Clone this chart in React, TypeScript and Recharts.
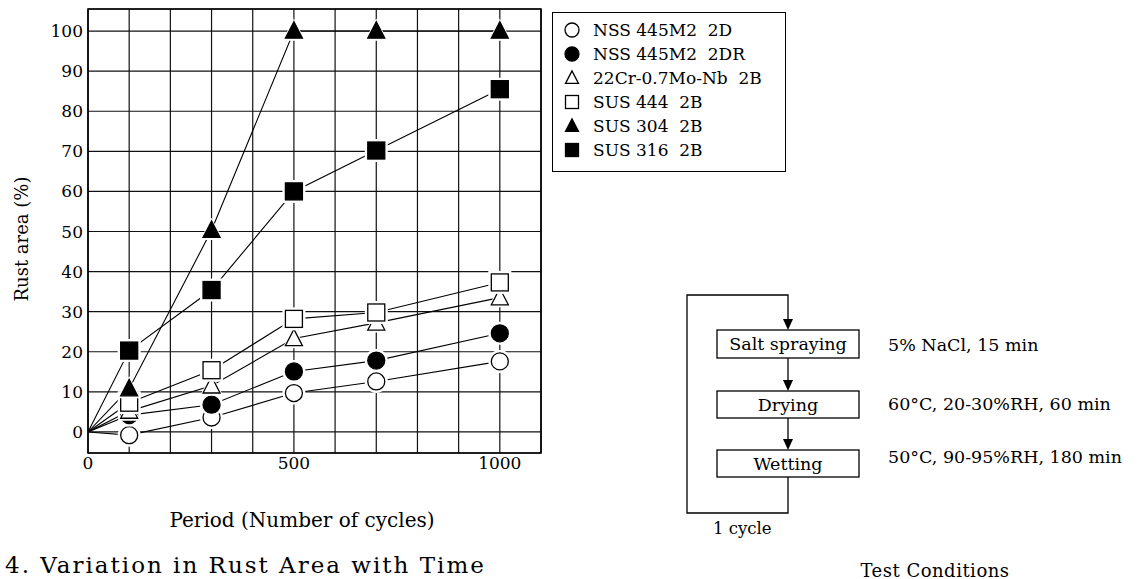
import React from 'react';
import { LineChart, Line, XAxis, YAxis, CartesianGrid, ReferenceArea } from 'recharts';

// cycles at which the specimens were inspected
const cycles = [0, 100, 300, 500, 700, 1000];

// rust area (%) per steel grade
const nss2d = [0, -0.8, 3.6, 9.7, 12.6, 17.6];
const nss2dr = [0, 4.2, 6.8, 15.1, 17.8, 24.6];
const cr22 = [0, 5.2, 11.5, 23.3, 27.2, 33.5];
const sus444 = [0, 7.3, 15.4, 28.2, 29.8, 37.3];
const sus304 = [0, 10.8, 50.3, 100, 100, 100];
const sus316 = [0, 20.3, 35.4, 60, 70.2, 85.5];

const xTicks = [0, 100, 200, 300, 400, 500, 600, 700, 800, 900, 1000, 1100];
const xLabels = [0, 500, 1000];
const yTicks = [0, 10, 20, 30, 40, 50, 60, 70, 80, 90, 100];

const steps = ['Salt spraying', 'Drying', 'Wetting'];
const conditions = ['5% NaCl, 15 min', '60°C, 20-30%RH, 60 min', '50°C, 90-95%RH, 180 min'];

const FONT = "'DejaVu Serif', 'Liberation Serif', serif";

type Shape = 'circle' | 'square' | 'triangle';

const series: { key: string; name: string; values: number[]; shape: Shape; filled: boolean }[] = [
    { key: 'nss2d', name: 'NSS 445M2  2D', values: nss2d, shape: 'circle', filled: false },
    { key: 'nss2dr', name: 'NSS 445M2  2DR', values: nss2dr, shape: 'circle', filled: true },
    { key: 'cr22', name: '22Cr-0.7Mo-Nb  2B', values: cr22, shape: 'triangle', filled: false },
    { key: 'sus444', name: 'SUS 444  2B', values: sus444, shape: 'square', filled: false },
    { key: 'sus304', name: 'SUS 304  2B', values: sus304, shape: 'triangle', filled: true },
    { key: 'sus316', name: 'SUS 316  2B', values: sus316, shape: 'square', filled: true },
];

const data = cycles.map((x, i) => {
    const row: Record<string, number> = { x };
    series.forEach((s) => (row[s.key] = s.values[i]));
    return row;
});

function drawShape(shape: Shape, cx: number, cy: number, s: number, fill: string, stroke: string, sw: number) {
    if (shape === 'circle') {
        return <circle cx={cx} cy={cy} r={s / 2} fill={fill} stroke={stroke} strokeWidth={sw} />;
    }
    if (shape === 'square') {
        return <rect x={cx - s / 2} y={cy - s / 2} width={s} height={s} fill={fill} stroke={stroke} strokeWidth={sw} />;
    }
    const pts = `${cx},${cy - s * 0.55} ${cx - s / 2},${cy + s * 0.42} ${cx + s / 2},${cy + s * 0.42}`;
    return <polygon points={pts} fill={fill} stroke={stroke} strokeWidth={sw} strokeLinejoin="miter" />;
}

function Marker({ cx, cy, shape, filled, size, halo }: { cx: number; cy: number; shape: Shape; filled: boolean; size: number; halo?: boolean }) {
    return (
        <g>
            {halo && drawShape(shape, cx, cy, size + 6, '#fff', 'none', 0)}
            {drawShape(shape, cx, cy, size, filled ? '#000' : '#fff', '#000', 1.3)}
        </g>
    );
}

const makeDot = (shape: Shape, filled: boolean) => (props: any) => {
    const { cx, cy, index } = props;
    if (index === 0 || cx == null || cy == null) return <g key={`d-${index}`} />;
    return (
        <g key={`d-${index}`}>
            <Marker cx={cx} cy={cy} shape={shape} filled={filled} size={17} halo />
        </g>
    );
};

const legendSize: Record<string, number> = { circle: 14, square: 13, triangle: 13 };

export default function App() {
    return (
        <div style={{ position: 'absolute', left: 0, top: 0, width: 1138, height: 579, background: '#fff', fontFamily: FONT }}>
            <div style={{ position: 'absolute', left: 0, top: 0 }}>
                <LineChart width={800} height={579} data={data} margin={{ top: 9, right: 259, bottom: 0, left: 10 }}>
                    <CartesianGrid stroke="#111" strokeWidth={1.2} />
                    <XAxis
                        dataKey="x"
                        type="number"
                        domain={[0, 1100]}
                        ticks={xTicks}
                        interval={0}
                        allowDataOverflow
                        height={126}
                        axisLine={false}
                        tickLine={false}
                        tickSize={0}
                        tickMargin={4}
                        tickFormatter={(v: number) => (xLabels.includes(v) ? String(v) : '')}
                        tick={{ fontSize: 17, fill: '#000', fontFamily: FONT }}
                    />
                    <YAxis
                        type="number"
                        domain={[-5.25, 105.5]}
                        ticks={yTicks}
                        interval={0}
                        allowDataOverflow
                        width={78}
                        axisLine={false}
                        tickLine={false}
                        tickSize={0}
                        tickMargin={5}
                        tick={{ fontSize: 17, fill: '#000', fontFamily: FONT }}
                    />
                    <ReferenceArea x1={0} x2={1100} y1={-5.25} y2={105.5} fill="#fff" fillOpacity={0} stroke="#000" strokeWidth={1.6} />
                    {series.map((s) => (
                        <Line
                            key={s.key}
                            dataKey={s.key}
                            name={s.name}
                            type="linear"
                            stroke="#000"
                            strokeWidth={1.1}
                            dot={makeDot(s.shape, s.filled)}
                            activeDot={false}
                            isAnimationActive={false}
                        />
                    ))}
                </LineChart>
            </div>

            {/* legend */}
            <div
                style={{
                    position: 'absolute',
                    left: 552,
                    top: 12,
                    width: 234,
                    height: 160,
                    border: '1.3px solid #000',
                    boxSizing: 'border-box',
                    paddingTop: 5,
                }}
            >
                {series.map((s) => (
                    <div key={s.key} style={{ display: 'flex', alignItems: 'center', height: 24, paddingLeft: 9 }}>
                        <svg width={20} height={20} style={{ flex: 'none' }}>
                            <Marker cx={10} cy={10} shape={s.shape} filled={s.filled} size={legendSize[s.shape]} />
                        </svg>
                        <span style={{ marginLeft: 11, fontSize: 17, whiteSpace: 'pre', color: '#000' }}>{s.name}</span>
                    </div>
                ))}
            </div>

            {/* labels and test-condition diagram */}
            <svg width={1138} height={579} style={{ position: 'absolute', left: 0, top: 0, pointerEvents: 'none' }} fontFamily={FONT}>
                <text x={21} y={239} transform="rotate(-90 21 239)" textAnchor="middle" dominantBaseline="central" fontSize={18}>
                    Rust area (%)
                </text>
                <text x={302} y={520} textAnchor="middle" dominantBaseline="central" fontSize={20}>
                    Period (Number of cycles)
                </text>
                <text x={5} y={565} dominantBaseline="central" fontSize={23} letterSpacing={2}>
                    4.  Variation in Rust Area with Time
                </text>

                <g stroke="#000" strokeWidth={1.3} fill="none">
                    <polyline points="788,477 788,513 687,513 687,295 788,295 788,320" />
                    <line x1={788} y1={358} x2={788} y2={381} />
                    <line x1={788} y1={418} x2={788} y2={440} />
                    <rect x={717} y={330} width={142} height={28} />
                    <rect x={717} y={391} width={142} height={27} />
                    <rect x={717} y={450} width={142} height={27} />
                </g>
                <g fill="#000">
                    <polygon points="783,319 793,319 788,330" />
                    <polygon points="783,380 793,380 788,391" />
                    <polygon points="783,439 793,439 788,450" />
                </g>
                {steps.map((t, i) => (
                    <text key={t} x={788} y={[344, 404.5, 463.5][i]} textAnchor="middle" dominantBaseline="central" fontSize={17.5}>
                        {t}
                    </text>
                ))}
                {conditions.map((t, i) => (
                    <text key={t} x={888} y={[345, 404, 457][i]} dominantBaseline="central" fontSize={17.5}>
                        {t}
                    </text>
                ))}
                <text x={713} y={528} dominantBaseline="central" fontSize={16.5}>
                    1 cycle
                </text>
                <text x={935} y={570} textAnchor="middle" dominantBaseline="central" fontSize={18} letterSpacing={0.5}>
                    Test Conditions
                </text>
            </svg>
        </div>
    );
}
